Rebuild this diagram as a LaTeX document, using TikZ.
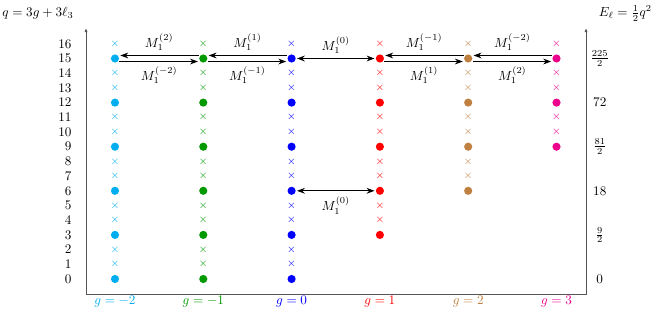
\documentclass[tikz,border=0pt]{standalone}
\usepackage{amsmath,amssymb}
\usepackage{xcolor}
\usetikzlibrary{arrows.meta, positioning, calc}
\definecolor{gminustwo}{RGB}{0, 174, 239}
\definecolor{gminusone}{RGB}{0, 153, 0}
\definecolor{gzero}{RGB}{0, 0, 255}
\definecolor{gone}{RGB}{255, 0, 0}
\definecolor{gtwo}{RGB}{191, 128, 64}
\definecolor{gthree}{RGB}{236, 0, 140}
\definecolor{axisColor}{RGB}{85, 85, 85}

\begin{document}
\begin{tikzpicture}[
    x=67.1pt, y=11.17pt,
    level/.style={circle, inner sep=0pt, minimum size=6.2pt},
    cross/.style={inner sep=0pt, font=\footnotesize},
    glabel/.style={font=\normalsize},
    axis/.style={draw=axisColor, line width=0.6pt, {Latex[length=3pt,width=2.4pt]}-{Latex[length=3pt,width=2.4pt]}},
    line/.style={draw=black, {Stealth[length=6pt,width=4.4pt]}-, thick, shorten <=0.8pt},
    twoway/.style={draw=black, {Stealth[length=6pt,width=4.4pt]}-{Stealth[length=6pt,width=4.4pt]}, thick, shorten <=0.8pt, shorten >=0.8pt}
]
\useasboundingbox (-1.302,-2.517) rectangle (6.138,18.98);

% Axes
\coordinate (lefttop) at (-0.328,17.07);
\coordinate (leftbottom) at (-0.328,-1.02);
\coordinate (rightbottom) at (5.334,-1.02);
\coordinate (righttop) at (5.334,17.07);
\path [axis] (lefttop) -- (leftbottom) -- (rightbottom) -- (righttop);

\node (qtitle) at (-0.872,18.05) {$q=3g+3\ell_3$};
\node (etitle) at (5.78,18.08) {$E_\ell=\frac{1}{2}q^2$};

% Row labels
\foreach \q in {0,...,16}
    \node [anchor=east] (q\q) at (-0.44,\q) {$\q$};
\foreach \q/\e in {0/0, 3/\frac{9}{2}, 6/18, 9/\frac{81}{2}, 12/72, 15/\frac{225}{2}}
    \node (e\q) at (5.49,\q) {$\e$};

% States
\foreach \g/\col in {-2/gminustwo, -1/gminusone, 0/gzero, 1/gone, 2/gtwo, 3/gthree}{
    \pgfmathtruncatemacro{\qmin}{3*max(0,\g)}
    \pgfmathtruncatemacro{\c}{\g+2}
    \foreach \q in {\qmin,...,16}{
        \pgfmathtruncatemacro{\r}{mod(\q,3)}
        \ifnum\r=0
            \node [level, fill=\col] (c\c-\q) at (\c,\q) {};
        \else
            \node [cross, text=\col] (c\c-\q) at (\c,\q) {$\times$};
        \fi
    }
    \node [glabel, text=\col] (g\c) at (\c,-1.56) {$g=\g$};
}

% Connectors
\path [line] ([yshift=2.3pt]c0-15.east) -- node[above] {$M_1^{(2)}$} ([yshift=2.3pt]c1-15.west);
\path [line] ([yshift=-2.3pt]c1-15.west) -- node[below] {$M_1^{(-2)}$} ([yshift=-2.3pt]c0-15.east);
\path [line] ([yshift=2.3pt]c1-15.east) -- node[above] {$M_1^{(1)}$} ([yshift=2.3pt]c2-15.west);
\path [line] ([yshift=-2.3pt]c2-15.west) -- node[below] {$M_1^{(-1)}$} ([yshift=-2.3pt]c1-15.east);
\path [twoway] (c2-15) -- node[above] {$M_1^{(0)}$} (c3-15);
\path [line] ([yshift=2.3pt]c3-15.east) -- node[above] {$M_1^{(-1)}$} ([yshift=2.3pt]c4-15.west);
\path [line] ([yshift=-2.3pt]c4-15.west) -- node[below] {$M_1^{(1)}$} ([yshift=-2.3pt]c3-15.east);
\path [line] ([yshift=2.3pt]c4-15.east) -- node[above] {$M_1^{(-2)}$} ([yshift=2.3pt]c5-15.west);
\path [line] ([yshift=-2.3pt]c5-15.west) -- node[below] {$M_1^{(2)}$} ([yshift=-2.3pt]c4-15.east);
\path [twoway] (c2-6) -- node[below=1pt] {$M_1^{(0)}$} (c3-6);

\end{tikzpicture}
\end{document}
